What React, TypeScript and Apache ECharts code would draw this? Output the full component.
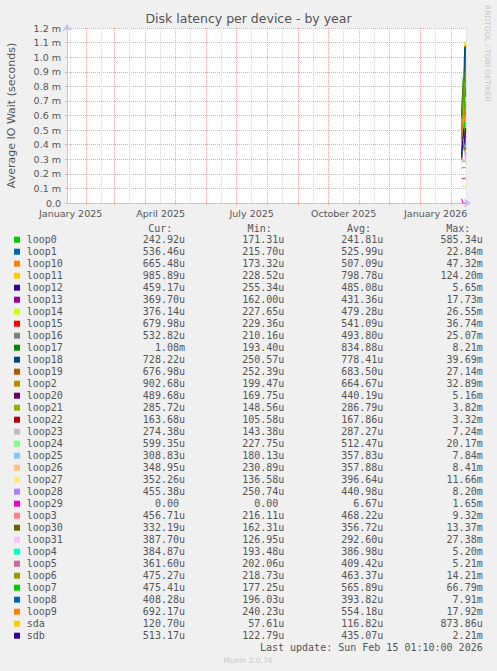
import React, { useEffect, useRef } from "react";
import * as echarts from "echarts";

// ---------- data ----------
const seriesNames = [
  "loop0", "loop1", "loop10", "loop11", "loop12", "loop13", "loop14", "loop15",
  "loop16", "loop17", "loop18", "loop19", "loop2", "loop20", "loop21", "loop22",
  "loop23", "loop24", "loop25", "loop26", "loop27", "loop28", "loop29", "loop3",
  "loop30", "loop31", "loop4", "loop5", "loop6", "loop7", "loop8", "loop9", "sda", "sdb",
];

const seriesColors = [
  "#00CC00", "#0066B3", "#FF8000", "#FFCC00", "#330099", "#990099", "#CCFF00", "#FF0000",
  "#808080", "#008F00", "#00487D", "#B35A00", "#B38F00", "#6B006B", "#8FB300", "#B30000",
  "#BEBEBE", "#80FF80", "#80C9FF", "#FFC080", "#FFE680", "#AA80FF", "#EE00CC", "#FF8080",
  "#666600", "#FFBFFF", "#00FFCC", "#CC6699", "#999900", "#00CC00", "#0066B3", "#FF8000",
  "#FFCC00", "#330099",
];

// daily samples (the only days with data)
const sampleDates = ["2026-02-11", "2026-02-12", "2026-02-13", "2026-02-14", "2026-02-15"];

// average IO wait per day, in microseconds (rows follow seriesNames)
const latencyUs: number[][] = [
  [236, 247, 239, 244, 243],   // loop0
  [410, 540, 620, 510, 536],   // loop1
  [350, 470, 640, 420, 665],   // loop10
  [420, 690, 800, 1100, 986],  // loop11
  [310, 470, 520, 480, 459],   // loop12
  [300, 460, 520, 440, 370],   // loop13
  [330, 520, 600, 480, 376],   // loop14
  [380, 540, 650, 540, 680],   // loop15
  [360, 510, 580, 490, 533],   // loop16
  [580, 800, 900, 830, 1080],  // loop17
  [600, 760, 760, 1070, 728],  // loop18
  [500, 700, 800, 700, 677],   // loop19
  [430, 600, 900, 600, 903],   // loop2
  [320, 440, 520, 420, 490],   // loop20
  [280, 292, 286, 289, 286],   // loop21
  [170, 168, 166, 170, 164],   // loop22
  [290, 300, 284, 290, 274],   // loop23
  [380, 500, 600, 480, 599],   // loop24
  [330, 360, 380, 370, 309],   // loop25
  [340, 360, 380, 360, 349],   // loop26
  [330, 410, 440, 450, 352],   // loop27
  [380, 440, 500, 430, 455],   // loop28
  [30, 0, 0, 0, 0],            // loop29
  [380, 480, 520, 500, 457],   // loop3
  [300, 360, 400, 370, 332],   // loop30
  [270, 290, 300, 300, 388],   // loop31
  [330, 400, 420, 400, 385],   // loop4
  [340, 430, 470, 440, 362],   // loop5
  [380, 460, 540, 460, 475],   // loop6
  [420, 560, 860, 520, 475],   // loop7
  [330, 410, 420, 400, 408],   // loop8
  [400, 550, 660, 560, 692],   // loop9
  [115, 118, 116, 115, 121],   // sda
  [330, 420, 510, 410, 513],   // sdb
];

const curVals = [
  "242.92u", "536.46u", "665.48u", "985.89u", "459.17u", "369.70u", "376.14u", "679.98u",
  "532.82u", "1.08m", "728.22u", "676.98u", "902.68u", "489.68u", "285.72u", "163.68u",
  "274.38u", "599.35u", "308.83u", "348.95u", "352.26u", "455.38u", "0.00", "456.71u",
  "332.19u", "387.70u", "384.87u", "361.60u", "475.27u", "475.41u", "408.28u", "692.17u",
  "120.70u", "513.17u",
];
const minVals = [
  "171.31u", "215.70u", "173.32u", "228.52u", "255.34u", "162.00u", "227.65u", "229.36u",
  "210.16u", "193.40u", "250.57u", "252.39u", "199.47u", "169.75u", "148.56u", "105.58u",
  "143.38u", "227.75u", "180.13u", "230.89u", "136.58u", "250.74u", "0.00", "216.11u",
  "162.31u", "126.95u", "193.48u", "202.06u", "218.73u", "177.25u", "196.03u", "240.23u",
  "57.61u", "122.79u",
];
const avgVals = [
  "241.81u", "525.99u", "507.09u", "798.78u", "485.08u", "431.36u", "479.28u", "541.09u",
  "493.80u", "834.88u", "778.41u", "683.50u", "664.67u", "440.19u", "286.79u", "167.86u",
  "287.27u", "512.47u", "357.83u", "357.88u", "396.64u", "440.98u", "6.67u", "468.22u",
  "356.72u", "292.60u", "386.98u", "409.42u", "463.37u", "565.89u", "393.82u", "554.18u",
  "116.82u", "435.07u",
];
const maxVals = [
  "585.34u", "22.84m", "47.32m", "124.20m", "5.65m", "17.73m", "26.55m", "36.74m",
  "25.07m", "8.21m", "39.69m", "27.14m", "32.89m", "5.16m", "3.82m", "3.32m",
  "7.24m", "20.17m", "7.84m", "8.41m", "11.66m", "8.20m", "1.65m", "9.32m",
  "13.37m", "27.38m", "5.20m", "5.21m", "14.21m", "66.79m", "7.91m", "17.92m",
  "873.86u", "2.21m",
];

const columnHeaders = ["Cur:", "Min:", "Avg:", "Max:"];

// x axis: month boundaries (major grid), mid-month (minor grid + labels)
const monthStarts = [
  "2025-02-01", "2025-03-01", "2025-04-01", "2025-05-01", "2025-06-01", "2025-07-01",
  "2025-08-01", "2025-09-01", "2025-10-01", "2025-11-01", "2025-12-01", "2026-01-01",
  "2026-02-01",
];
const midMonths = [
  "2025-01-16", "2025-02-16", "2025-03-16", "2025-04-16", "2025-05-16", "2025-06-16",
  "2025-07-16", "2025-08-16", "2025-09-16", "2025-10-16", "2025-11-16", "2025-12-16",
  "2026-01-16", "2026-02-16",
];
const tickLabelDates = ["2025-01-16", "2025-04-16", "2025-07-16", "2025-10-16", "2026-01-16"];
const tickLabels = ["January 2025", "April 2025", "July 2025", "October 2025", "January 2026"];

const titleText = "Disk latency per device - by year";
const yAxisTitle = "Average IO Wait (seconds)";
const creditText = "RRDTOOL / TOBI OETIKER";
const lastUpdateText = "Last update: Sun Feb 15 01:10:00 2026";
const versionText = "Munin 2.0.76";

// ---------- helpers ----------
const t = (d: string) => Date.parse(d + "T00:00:00Z");
const X_MIN = Date.UTC(2025, 0, 12, 8);
const X_MAX = Date.UTC(2026, 1, 16, 8);

const SANS = "DejaVu Sans";
const MONO = "DejaVu Sans Mono";
const TEXT = "#555555";
const AXIS = "#c4c4f4";
const MGRID = "#f0a8a8";
const GRID = "#d4d4d4";

export default function App() {
  const ref = useRef<HTMLDivElement>(null);

  useEffect(() => {
    if (!ref.current) return;
    const chart = echarts.init(ref.current, undefined, { renderer: "svg" });

    const legendEls: any[] = [];
    const rowY0 = 239.7;
    const rowStep = 12;
    const valueRight = [185, 284.3, 383.3, 482.7];
    const headerRight = [172.3, 271.7, 371, 470.3];
    const pad = (v: string) => (/[a-z]$/i.test(v) ? v : v + "\u00a0");

    columnHeaders.forEach((h, k) => {
      legendEls.push({
        type: "text",
        x: headerRight[k],
        y: 228,
        silent: true,
        style: {
          text: h, fill: TEXT, fontSize: 10, fontFamily: MONO,
          align: "right", verticalAlign: "middle", textAlign: "right", textVerticalAlign: "middle",
        },
      });
    });

    seriesNames.forEach((name, i) => {
      const y = rowY0 + i * rowStep;
      legendEls.push({
        type: "rect",
        silent: true,
        shape: { x: 14, y: y - 3, width: 6, height: 6 },
        style: { fill: seriesColors[i] },
      });
      legendEls.push({
        type: "text",
        x: 26.7,
        y,
        silent: true,
        style: {
          text: name, fill: TEXT, fontSize: 10, fontFamily: MONO,
          align: "left", verticalAlign: "middle", textAlign: "left", textVerticalAlign: "middle",
        },
      });
      [curVals[i], minVals[i], avgVals[i], maxVals[i]].forEach((v, k) => {
        legendEls.push({
          type: "text",
          x: valueRight[k],
          y,
          silent: true,
          style: {
            text: pad(v), fill: TEXT, fontSize: 10, fontFamily: MONO,
            align: "right", verticalAlign: "middle", textAlign: "right", textVerticalAlign: "middle",
          },
        });
      });
    });

    legendEls.push({
      type: "text",
      x: 482.7,
      y: 647.7,
      silent: true,
      style: {
        text: lastUpdateText, fill: TEXT, fontSize: 10, fontFamily: MONO,
        align: "right", verticalAlign: "middle", textAlign: "right", textVerticalAlign: "middle",
      },
    });
    legendEls.push({
      type: "text",
      x: 248,
      y: 660.5,
      silent: true,
      style: {
        text: versionText, fill: "#c8c8c8", fontSize: 7.5, fontFamily: SANS,
        align: "center", verticalAlign: "middle", textAlign: "center", textVerticalAlign: "middle",
      },
    });
    legendEls.push({
      type: "text",
      x: 487.5,
      y: 5,
      rotation: -Math.PI / 2,
      silent: true,
      style: {
        text: creditText, fill: "#c8c8c8", fontSize: 7.5, fontFamily: SANS,
        align: "left", verticalAlign: "middle", textAlign: "left", textVerticalAlign: "middle",
      },
    });

    const labelMap: Record<number, string> = {};
    tickLabelDates.forEach((d, k) => (labelMap[t(d)] = tickLabels[k]));

    chart.setOption({
      animation: false,
      backgroundColor: "#f0f0f0",
      title: {
        text: titleText,
        left: "center",
        top: 12,
        padding: 0,
        textStyle: { fontSize: 12.5, fontWeight: "normal", color: TEXT, fontFamily: SANS },
      },
      grid: {
        left: 67,
        top: 28,
        width: 400,
        height: 175,
        show: true,
        backgroundColor: "#ffffff",
        borderWidth: 0,
        containLabel: false,
        outerBoundsMode: "none",
      },
      xAxis: [
        {
          type: "value",
          gridIndex: 0,
          position: "bottom",
          min: X_MIN,
          max: X_MAX,
          axisLine: {
            show: true,
            lineStyle: { color: AXIS, width: 1 },
            symbol: ["none", "arrow"],
            symbolSize: [7, 7],
            symbolOffset: [0, 4],
          },
          axisTick: {
            show: true,
            customValues: monthStarts.map(t),
            length: 2,
            lineStyle: { color: MGRID },
          },
          axisLabel: { show: false },
          splitLine: { show: true, lineStyle: { color: MGRID, type: [1, 1], width: 1 } },
          z: 2,
        },
        {
          type: "value",
          gridIndex: 0,
          position: "bottom",
          min: X_MIN,
          max: X_MAX,
          axisLine: { show: false },
          axisTick: { show: false, customValues: midMonths.map(t) },
          axisLabel: {
            show: true,
            customValues: tickLabelDates.map(t),
            formatter: (v: number) => labelMap[v] ?? "",
            color: TEXT,
            fontSize: 9.5,
            fontFamily: SANS,
            margin: 5,
            hideOverlap: false,
            showMinLabel: true,
            showMaxLabel: true,
          },
          splitLine: { show: true, lineStyle: { color: GRID, type: [1, 1], width: 1 } },
          z: 1,
        },
      ],
      yAxis: {
        type: "value",
        min: 0,
        max: 0.0012,
        interval: 0.0001,
        name: yAxisTitle,
        nameLocation: "middle",
        nameRotate: 90,
        nameGap: 50,
        nameTextStyle: { color: TEXT, fontSize: 11, fontFamily: SANS },
        axisLine: {
          show: true,
          lineStyle: { color: AXIS, width: 1 },
          symbol: ["none", "arrow"],
          symbolSize: [7, 7],
          symbolOffset: [0, 4],
        },
        axisTick: { show: true, length: 2, lineStyle: { color: MGRID } },
        axisLabel: {
          color: TEXT,
          fontSize: 9.5,
          fontFamily: SANS,
          margin: 6,
          formatter: (v: number) => (v === 0 ? "0.0" : (v * 1000).toFixed(1) + " m"),
        },
        splitLine: { show: true, lineStyle: { color: MGRID, type: [1, 1], width: 1 } },
      },
      series: seriesNames.map((name, i) => ({
        name,
        type: "line",
        xAxisIndex: 0,
        yAxisIndex: 0,
        data: sampleDates.map((d, j) => [t(d), latencyUs[i][j] * 1e-6]),
        symbol: "none",
        showSymbol: false,
        silent: true,
        clip: true,
        z: 3,
        lineStyle: { width: 1, color: seriesColors[i] },
        itemStyle: { color: seriesColors[i] },
      })),
      graphic: { elements: legendEls },
    });

    return () => chart.dispose();
  }, []);

  return (
    <div
      ref={ref}
      style={{ position: "absolute", left: 0, top: 0, width: 497, height: 671, background: "#f0f0f0" }}
    />
  );
}
